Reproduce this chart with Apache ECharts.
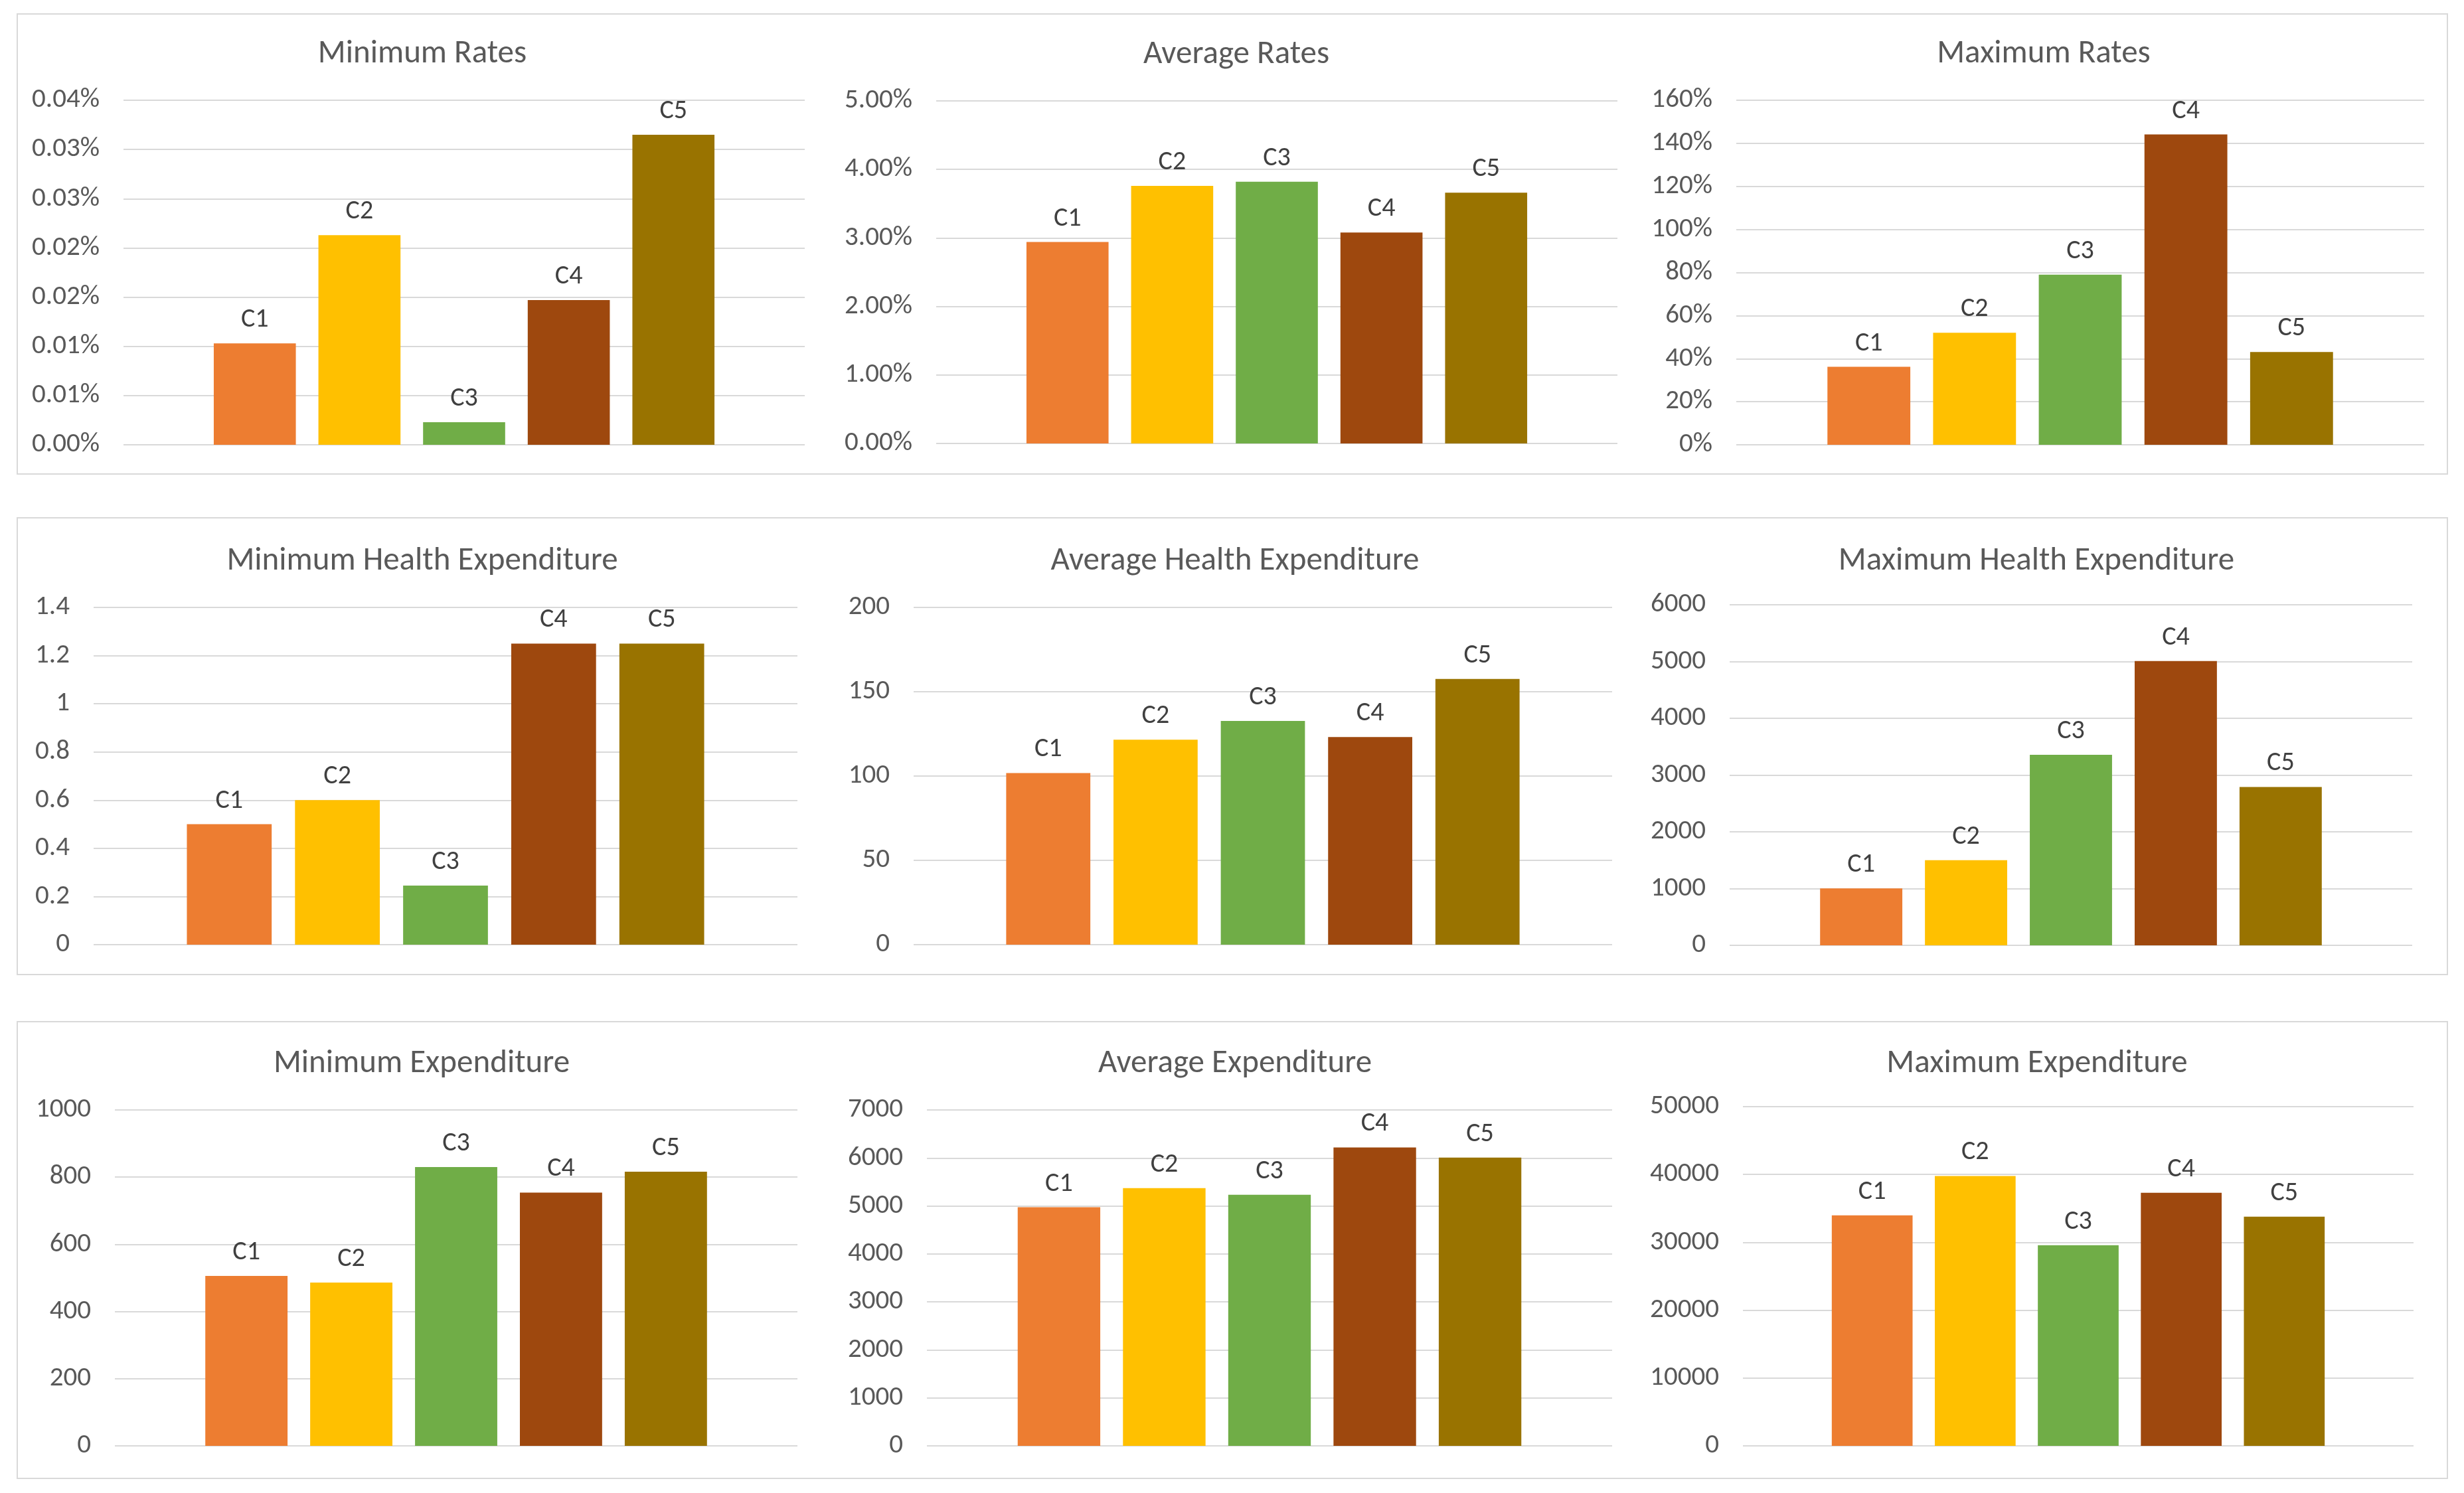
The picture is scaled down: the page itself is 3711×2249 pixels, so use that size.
<!DOCTYPE html>
<html>
<head>
<meta charset="utf-8">
<script src="https://cdn.jsdelivr.net/npm/echarts@6/dist/echarts.min.js"></script>
<style>
html,body{margin:0;padding:0;background:#fff;}
#c{width:3711px;height:2249px;}
</style>
</head>
<body>
<div id="c"></div>
<script>
// ---- data ----
const categories = ['C1', 'C2', 'C3', 'C4', 'C5'];
const panelTitles = [
  'Minimum Rates', 'Average Rates', 'Maximum Rates',
  'Minimum Health Expenditure', 'Average Health Expenditure', 'Maximum Health Expenditure',
  'Minimum Expenditure', 'Average Expenditure', 'Maximum Expenditure'
];
const minRates = [0.0103, 0.0213, 0.0023, 0.0147, 0.0315];   // %
const avgRates = [2.94, 3.76, 3.82, 3.08, 3.66];              // %
const maxRates = [36.2, 52.0, 79.0, 144.1, 43.1];             // %
const minHealth = [0.50, 0.60, 0.245, 1.25, 1.25];
const avgHealth = [101.8, 121.6, 132.7, 123.1, 157.6];
const maxHealth = [1003, 1501, 3356, 5008, 2790];
const minExp = [506, 486, 830, 754, 816];
const avgExp = [4973, 5371, 5232, 6219, 6007];
const maxExp = [33973, 39784, 29569, 37300, 33786];
const axisMax = [0.035, 5, 160, 1.4, 200, 6000, 1000, 7000, 50000];
const axisStep = [0.005, 1, 20, 0.2, 50, 1000, 200, 1000, 10000];
const allValues = [minRates, avgRates, maxRates, minHealth, avgHealth, maxHealth, minExp, avgExp, maxExp];

// ---- styling / layout ----
const colors = ['#ED7D31', '#FFC000', '#70AD47', '#9E480E', '#997300'];
const FONT = 'Carlito, Lato, sans-serif';
const plain = v => String(+v.toFixed(6));
const formatters = [
  v => (Math.round(v * 100 + 1e-6) / 100).toFixed(2) + '%',
  v => v.toFixed(2) + '%',
  v => Math.round(v) + '%',
  plain, plain, plain, plain, plain, plain
];
const grids = [
  {left: 186, top: 151, width: 1026, height: 519},
  {left: 1410, top: 152, width: 1026, height: 516},
  {left: 2615, top: 151, width: 1036, height: 519},
  {left: 141, top: 915, width: 1060, height: 508},
  {left: 1376, top: 915, width: 1052, height: 508},
  {left: 2605, top: 911, width: 1028, height: 513},
  {left: 173, top: 1672, width: 1028, height: 506},
  {left: 1396, top: 1672, width: 1032, height: 506},
  {left: 2625, top: 1667, width: 1010, height: 511}
];
const titlePos = [
  [636, 79], [1862, 80], [3078, 79],
  [636, 843], [1860, 843], [3067, 843],
  [635, 1600], [1860, 1600], [3068, 1600]
];
const rows = [[21, 714], [780, 1468], [1539, 2227]];

const option = {
  backgroundColor: '#fff',
  animation: false,
  title: panelTitles.map((t, i) => ({
    text: t,
    left: titlePos[i][0],
    top: titlePos[i][1] - 22,
    textAlign: 'center',
    padding: 0,
    textStyle: {fontFamily: FONT, fontSize: 49, fontWeight: 'normal', color: '#595959'}
  })),
  graphic: rows.map(r => ({
    type: 'rect', silent: true,
    shape: {x: 26, y: r[0], width: 3660, height: r[1] - r[0]},
    style: {fill: 'none', stroke: '#d9d9d9', lineWidth: 2}
  })),
  grid: grids.map(g => Object.assign({containLabel: false}, g)),
  xAxis: grids.map((g, i) => ({
    type: 'category', gridIndex: i, data: [''],
    axisLine: {show: false}, axisTick: {show: false}, axisLabel: {show: false}
  })),
  yAxis: grids.map((g, i) => ({
    type: 'value', gridIndex: i, min: 0, max: axisMax[i], interval: axisStep[i],
    axisLine: {show: false}, axisTick: {show: false},
    splitLine: {lineStyle: {color: '#d9d9d9', width: 2}},
    axisLabel: {fontFamily: FONT, fontSize: 41, color: '#595959', margin: 36, formatter: formatters[i]}
  })),
  series: []
};

allValues.forEach((vals, p) => {
  categories.forEach((c, k) => {
    option.series.push({
      type: 'bar', name: c, xAxisIndex: p, yAxisIndex: p,
      data: [vals[k]],
      barGap: '27.5%', barCategoryGap: '26.5%',
      itemStyle: {color: colors[k]},
      label: {show: true, position: 'top', distance: 15, formatter: '{a}',
        fontFamily: FONT, fontSize: 40, color: '#404040'}
    });
  });
});

const chart = echarts.init(document.getElementById('c'));
chart.setOption(option);
</script>
</body>
</html>
